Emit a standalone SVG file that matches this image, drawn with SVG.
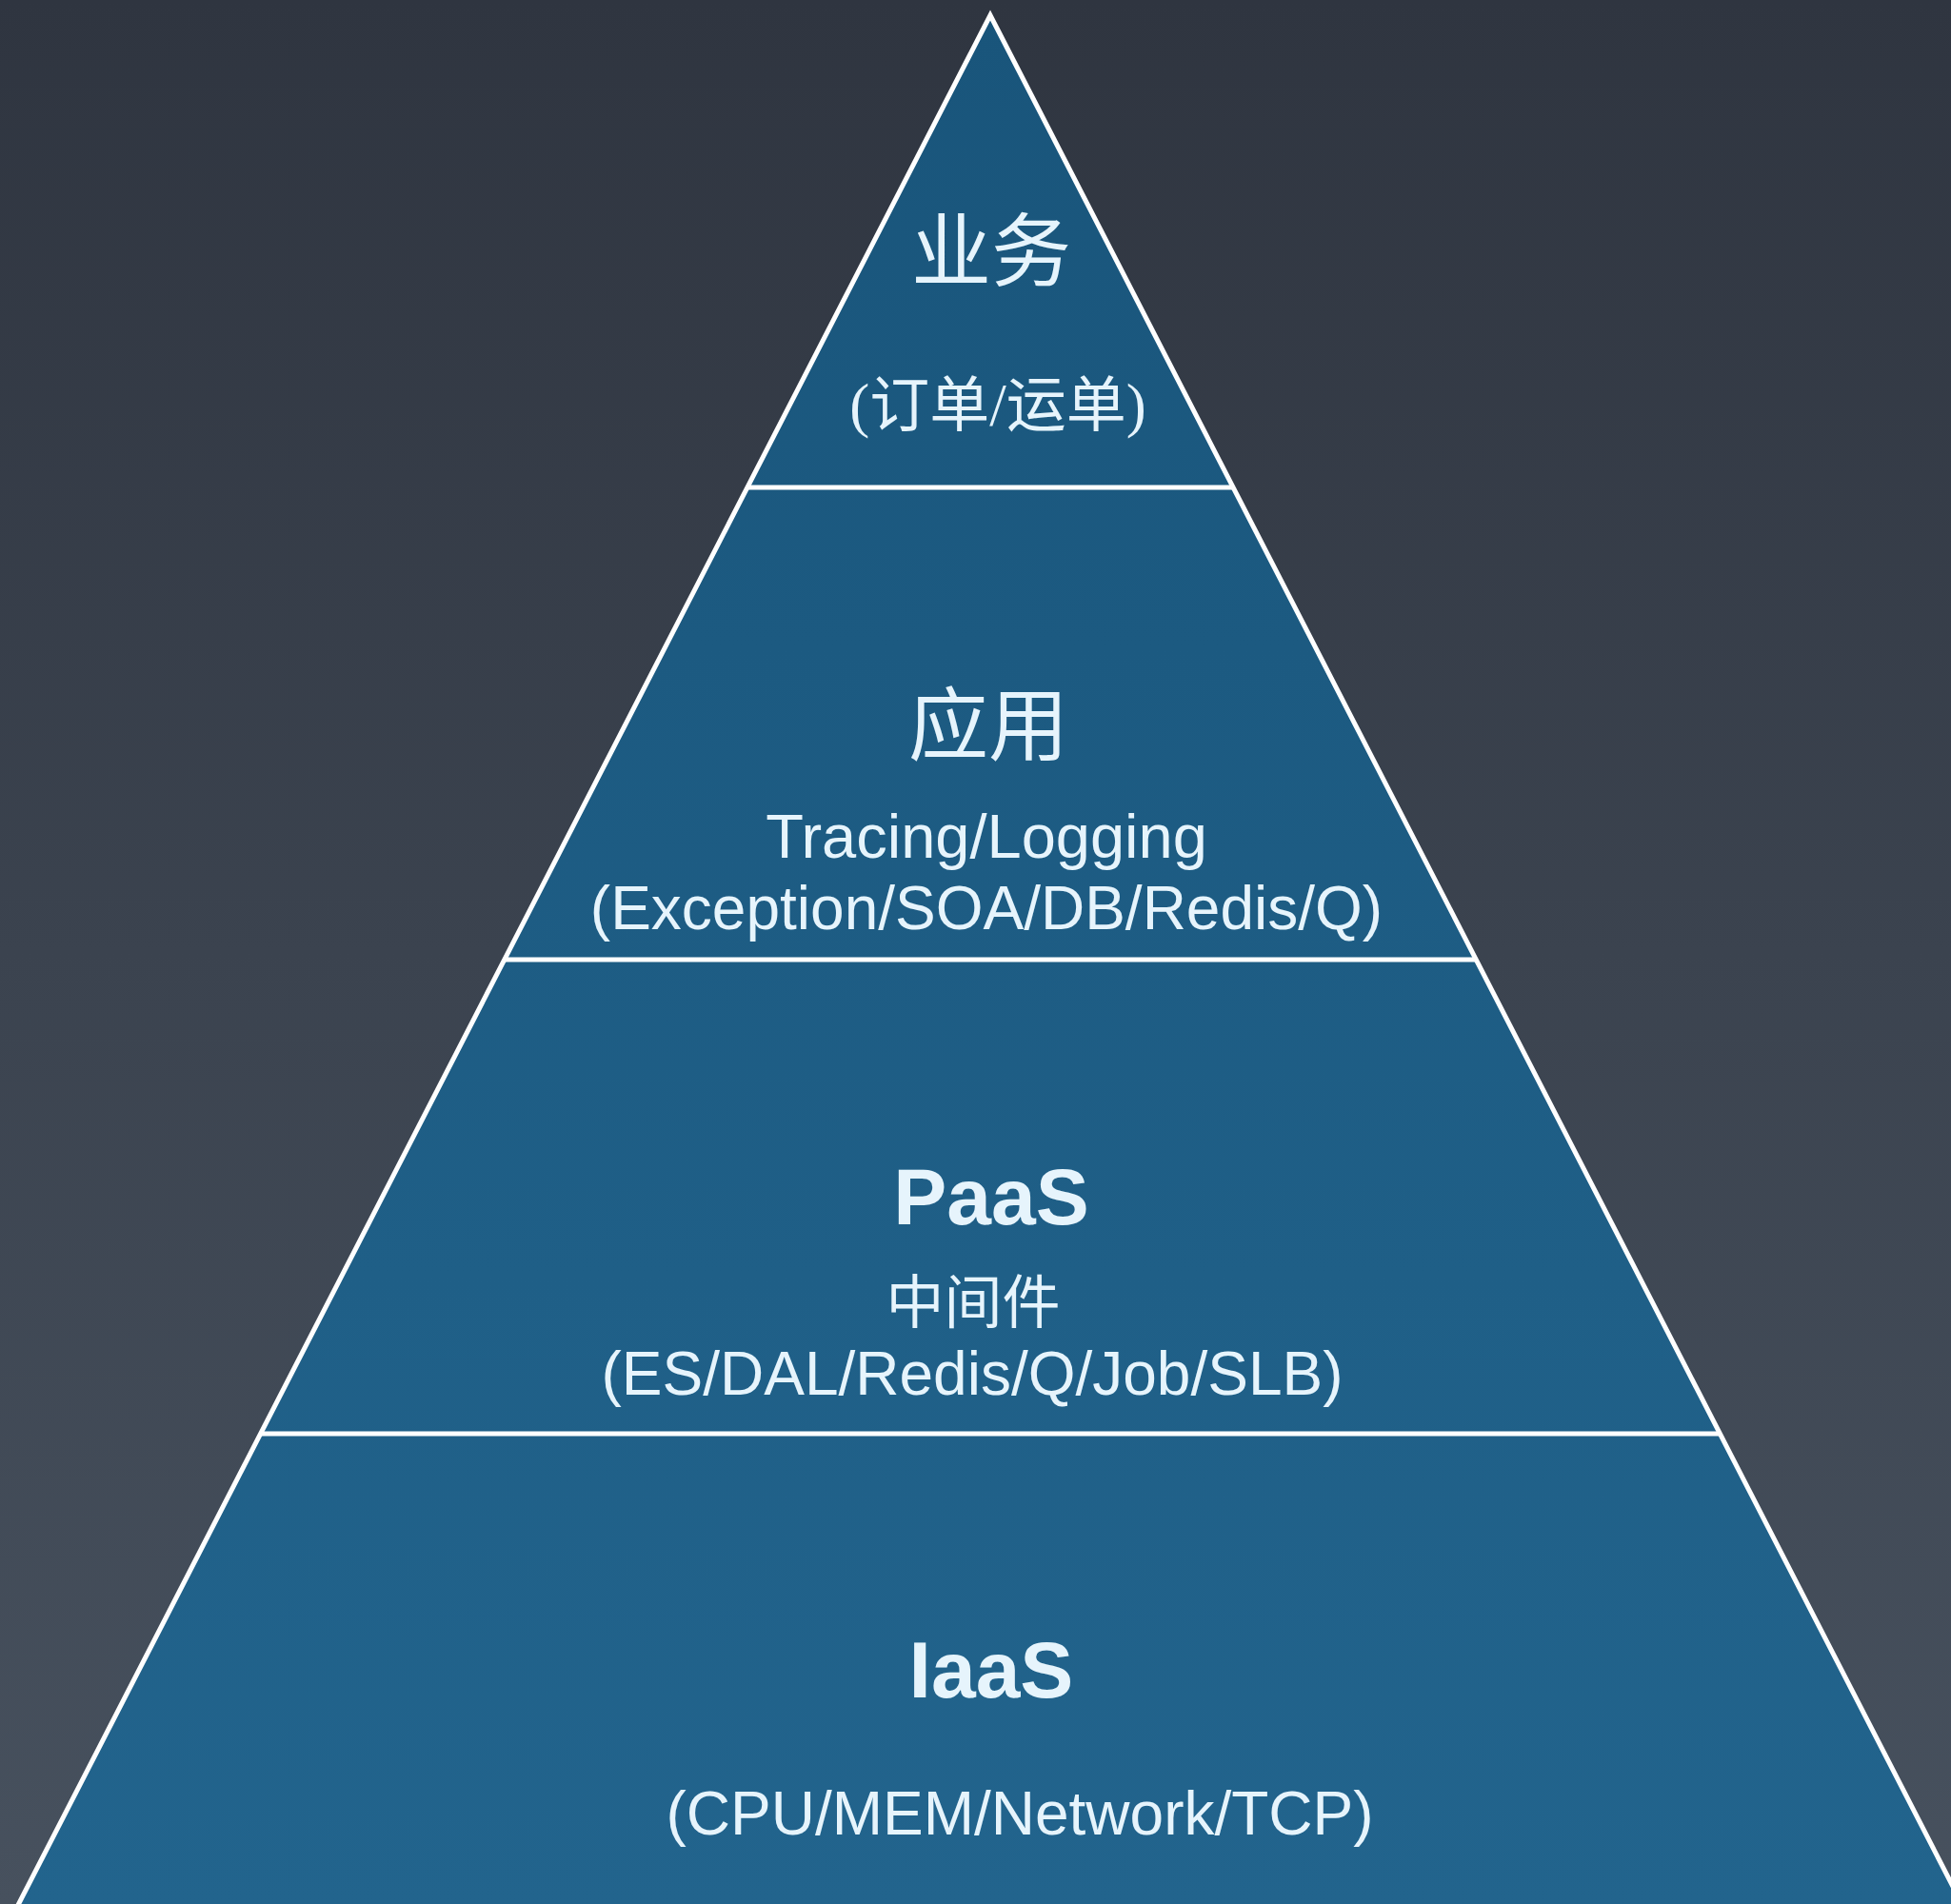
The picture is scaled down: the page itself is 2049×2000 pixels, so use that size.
<svg xmlns="http://www.w3.org/2000/svg" width="2049" height="2000" viewBox="0 0 2049 2000">
  <defs>
    <linearGradient id="bg" x1="0" y1="0" x2="0" y2="1">
      <stop offset="0" stop-color="#2f3540"/>
      <stop offset="1" stop-color="#47515e"/>
    </linearGradient>
    <linearGradient id="pyr" x1="0" y1="0" x2="0" y2="1">
      <stop offset="0" stop-color="#19557b"/>
      <stop offset="1" stop-color="#22648d"/>
    </linearGradient>
    <style>
      .edge { fill: none; stroke: #ffffff; stroke-width: 5; stroke-linejoin: miter; }
      .title { font-family: "Liberation Sans", "Noto Sans CJK SC", Arial, sans-serif; fill: #e6f4fc; text-anchor: middle; }
      .cjk { font-family: "Noto Sans CJK SC", sans-serif; fill: #e6f4fc; text-anchor: middle; }
      .sub { font-family: "Liberation Sans", "Noto Sans CJK SC", Arial, sans-serif; fill: #e6f4fc; text-anchor: middle; font-size: 64px; }
      .serif { font-family: "Liberation Serif", "Noto Sans CJK SC", serif; fill: #e6f4fc; text-anchor: middle; }
    </style>
  </defs>
  <rect x="0" y="0" width="2049" height="2000" fill="url(#bg)"/>
  <polygon points="1040,16 2062,2003 18,2003" fill="url(#pyr)"/>
  <g id="connectors">
    <polyline class="edge" points="18,2003 1040,16 2062,2003"/>
    <line class="edge" x1="785" y1="512" x2="1295" y2="512"/>
    <line class="edge" x1="529" y1="1008" x2="1551" y2="1008"/>
    <line class="edge" x1="274" y1="1506" x2="1806" y2="1506"/>
  </g>
  <g id="layer-business">
    <text class="cjk" x="1041" y="294" font-size="84">业务</text>
    <text class="serif" x="1048" y="447" font-size="63">(订单/运单)</text>
  </g>
  <g id="layer-app">
    <text class="cjk" x="1038" y="792" font-size="84">应用</text>
    <text class="sub" x="1036" y="901" font-size="65" style="font-size:65px">Tracing/Logging</text>
    <text class="sub" x="1036" y="976">(Exception/SOA/DB/Redis/Q)</text>
  </g>
  <g id="layer-paas">
    <text class="title" x="1041" y="1286" font-size="84" font-weight="bold">PaaS</text>
    <text class="serif" x="1022" y="1390" font-size="61">中间件</text>
    <text class="sub" x="1021" y="1465">(ES/DAL/Redis/Q/Job/SLB)</text>
  </g>
  <g id="layer-iaas">
    <text class="title" x="1041" y="1783" font-size="84" font-weight="bold">IaaS</text>
    <text class="sub" x="1071" y="1927">(CPU/MEM/Network/TCP)</text>
  </g>
</svg>
